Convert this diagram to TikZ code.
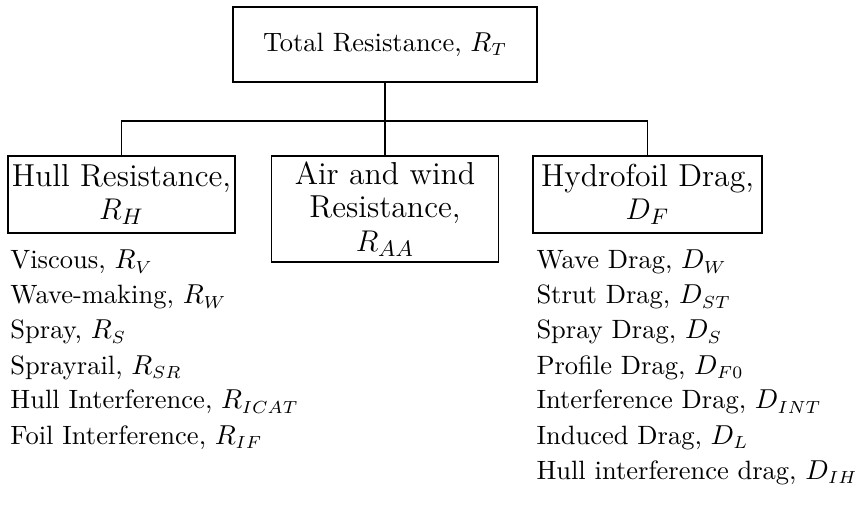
\documentclass[tikz,border=0pt]{standalone}
\begin{document}
\begin{tikzpicture}[x=0.4pt,y=-0.4pt,
  boxnode/.style={draw,line width=0.7pt,inner sep=0pt,align=center},
  smalltext/.style={font=\fontsize{10.6}{12.7}\selectfont},
  bigtext/.style={font=\fontsize{12.7}{13.4}\selectfont},
  listitem/.style={anchor=base west,inner sep=0pt,smalltext},
  conn/.style={line width=0.7pt}]
\useasboundingbox (0,0) rectangle (858,511);
% boxes
\node[boxnode,smalltext,minimum width=304*0.4pt,minimum height=75*0.4pt] (top) at (385,44.5) {Total Resistance, $R_T$};
\node[boxnode,bigtext,minimum width=227*0.4pt,minimum height=77*0.4pt] (hull) at (121.5,194.5) {Hull Resistance,\\$R_H$};
\node[boxnode,bigtext,minimum width=227*0.4pt,minimum height=106*0.4pt] (air) at (385,209) {Air and wind\\Resistance,\\$R_{AA}$};
\node[boxnode,bigtext,minimum width=229*0.4pt,minimum height=77*0.4pt] (hyd) at (647.5,194.5) {Hydrofoil Drag,\\$D_F$};
% connectors
\coordinate (jn) at (385,121);
\draw[conn] (top.south) -- (air.north);
\draw[conn] (hull.north) -- (hull.north |- jn) -- (hyd.north |- jn) -- (hyd.north);
% left list
\node[listitem] (l1) at (10,269) {Viscous, $R_V$};
\node[listitem] (l2) at (10,304) {Wave-making, $R_W$};
\node[listitem] (l3) at (10,339) {Spray, $R_S$};
\node[listitem] (l4) at (10,374) {Sprayrail, $R_{SR}$};
\node[listitem] (l5) at (10,409) {Hull Interference, $R_{ICAT}$};
\node[listitem] (l6) at (10,444) {Foil Interference, $R_{IF}$};
% right list
\node[listitem] (r1) at (536,269) {Wave Drag, $D_W$};
\node[listitem] (r2) at (536,304) {Strut Drag, $D_{ST}$};
\node[listitem] (r3) at (536,339) {Spray Drag, $D_S$};
\node[listitem] (r4) at (536,374) {Profile Drag, $D_{F0}$};
\node[listitem] (r5) at (536,409) {Interference Drag, $D_{INT}$};
\node[listitem] (r6) at (536,444) {Induced Drag, $D_L$};
\node[listitem] (r7) at (536,479) {Hull interference drag, $D_{IH}$};
\end{tikzpicture}
\end{document}
